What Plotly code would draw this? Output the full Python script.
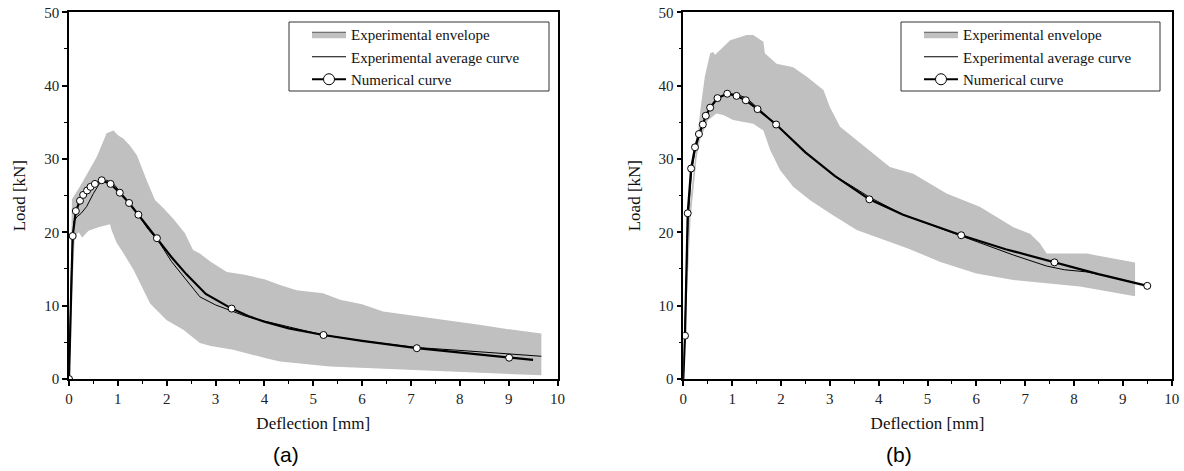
import plotly.graph_objects as go

# ---------------- data (a) ----------------
a_env_up_x = [0, 0.03, 0.06, 0.23, 0.4, 0.57, 0.77, 0.91, 1.01, 1.11, 1.25, 1.39, 1.59, 1.76, 1.93, 2.13, 2.37,
              2.54, 2.68, 2.9, 3.23, 3.6, 4.0, 4.32, 4.66, 5.2, 5.55, 6.0, 6.43, 7.0, 7.73, 8.4, 9.09, 9.67]
a_env_up_y = [0, 15, 24.5, 26.3, 28.3, 30.3, 33.5, 33.9, 33.2, 32.8, 31.8, 30.5, 27.1, 24.4, 23.3, 21.9, 19.9,
              17.6, 17.1, 16.0, 14.6, 14.2, 13.6, 12.8, 12.1, 11.7, 10.8, 10.2, 9.2, 8.7, 8.0, 7.4, 6.7, 6.2]
a_env_lo_x = [0, 0.05, 0.12, 0.2, 0.27, 0.4, 0.6, 0.84, 0.87, 0.98, 1.1, 1.32, 1.5, 1.66, 2.0, 2.34, 2.68,
              2.9, 3.36, 3.7, 4.05, 4.32, 4.73, 5.34, 6.0, 7.04, 8.5, 9.67]
a_env_lo_y = [0, 10, 19.5, 20.0, 19.3, 20.2, 20.7, 21.1, 20.3, 18.5, 17.3, 14.9, 12.5, 10.3, 8.0, 6.7, 4.9,
              4.5, 4.0, 3.4, 2.8, 2.4, 2.1, 1.7, 1.5, 1.2, 0.8, 0.5]
a_avg_x = [0, 0.05, 0.1, 0.16, 0.25, 0.36, 0.5, 0.63, 0.77, 0.9, 1.05, 1.23, 1.42, 1.6, 1.86, 2.1, 2.4, 2.68,
           3.0, 3.3, 3.6, 4.0, 4.5, 5.2, 6.0, 7.1, 8.0, 9.0, 9.67]
a_avg_y = [0, 15, 21.5, 22.1, 22.6, 23.5, 25.3, 26.7, 27.1, 26.7, 25.5, 24.0, 22.4, 20.6, 18.5, 16.0, 13.6, 11.2,
           10.1, 9.4, 8.6, 7.9, 7.1, 6.0, 5.2, 4.3, 3.9, 3.4, 3.1]
a_num_x = [0, 0.075, 0.14, 0.225, 0.29, 0.37, 0.44, 0.53, 0.67, 0.85, 1.04, 1.23, 1.42, 1.8, 2.1, 2.4, 2.8,
           3.33, 3.7, 4.0, 4.5, 5.21, 6.0, 7.12, 8.0, 9.01, 9.5]
a_num_y = [0, 19.5, 22.9, 24.3, 25.1, 25.7, 26.2, 26.6, 27.1, 26.6, 25.4, 24.0, 22.4, 19.2, 16.6, 14.3, 11.6,
           9.6, 8.5, 7.8, 6.9, 6.0, 5.2, 4.2, 3.6, 2.9, 2.6]
a_mark_x = [0, 0.075, 0.14, 0.225, 0.29, 0.37, 0.44, 0.53, 0.67, 0.85, 1.04, 1.23, 1.42, 1.8, 3.33, 5.21, 7.12, 9.01]
a_mark_y = [0, 19.5, 22.9, 24.3, 25.1, 25.7, 26.2, 26.6, 27.1, 26.6, 25.4, 24.0, 22.4, 19.2, 9.6, 6.0, 4.2, 2.9]

# ---------------- data (b) ----------------
b_env_up_x = [0, 0.04, 0.07, 0.2, 0.34, 0.44, 0.55, 0.61, 0.65, 0.96, 1.3, 1.43, 1.64, 1.67, 1.91, 2.25, 2.53,
              2.87, 3.0, 3.21, 3.55, 3.96, 4.23, 4.71, 5.39, 6.07, 6.76, 7.1, 7.3, 7.44, 8.26, 9.25]
b_env_up_y = [0, 10, 19.9, 27.6, 36.2, 41.2, 44.4, 44.6, 44.2, 46.2, 46.9, 46.9, 46.0, 44.4, 43.0, 42.5, 41.2,
              39.4, 37.1, 34.4, 32.6, 30.3, 28.9, 28.0, 25.3, 23.5, 20.7, 19.8, 18.5, 17.1, 17.1, 15.9]
b_env_lo_x = [0, 0.08, 0.15, 0.27, 0.34, 0.51, 0.68, 0.82, 1.02, 1.43, 1.64, 1.78, 1.98, 2.25, 2.59, 3.0, 3.55,
              4.03, 4.6, 5.25, 6.0, 6.76, 8.12, 9.25]
b_env_lo_y = [0, 12, 22, 30, 32.6, 35.3, 36.2, 36.0, 35.3, 34.8, 33.9, 31.2, 28.5, 26.2, 24.4, 22.6, 20.3,
              19.2, 17.8, 16.0, 14.4, 13.5, 12.6, 11.3]
b_avg_x = [0, 0.05, 0.1, 0.17, 0.25, 0.35, 0.45, 0.55, 0.7, 0.9, 1.1, 1.3, 1.52, 1.9, 2.5, 3.1, 3.5, 3.81, 4.5,
           5.69, 6.2, 6.76, 7.44, 7.8, 8.26, 8.7, 9.25]
b_avg_y = [0, 12, 22, 28.2, 31.4, 33.6, 35.6, 36.9, 38.2, 38.9, 38.8, 38.3, 37.0, 34.7, 30.9, 27.7, 26.1, 24.8,
           22.4, 19.5, 18.2, 16.9, 15.4, 14.9, 14.6, 14.0, 13.1]
b_num_x = [0, 0.035, 0.09, 0.16, 0.24, 0.32, 0.40, 0.46, 0.55, 0.70, 0.90, 1.09, 1.28, 1.52, 1.90, 2.5, 3.1,
           3.5, 3.81, 4.5, 5.69, 6.6, 7.6, 8.5, 9.5]
b_num_y = [0, 5.9, 22.6, 28.7, 31.6, 33.4, 34.7, 35.9, 37.0, 38.3, 38.9, 38.6, 38.0, 36.8, 34.7, 30.9, 27.7,
           25.9, 24.5, 22.4, 19.6, 17.7, 15.9, 14.3, 12.7]
b_mark_x = [0.035, 0.09, 0.16, 0.24, 0.32, 0.40, 0.46, 0.55, 0.70, 0.90, 1.09, 1.28, 1.52, 1.90, 3.81, 5.69, 7.6, 9.5]
b_mark_y = [5.9, 22.6, 28.7, 31.6, 33.4, 34.7, 35.9, 37.0, 38.3, 38.9, 38.6, 38.0, 36.8, 34.7, 24.5, 19.6, 15.9, 12.7]

legend_names = ["Experimental envelope", "Experimental average curve", "Numerical curve"]
panel_labels = ["(a)", "(b)"]
x_title = "Deflection [mm]"
y_title = "Load [kN]"

ENV = "#c0c0c0"
SERIF = "Liberation Serif, Times New Roman, serif"

fig = go.Figure()

panels = [
    (a_env_up_x, a_env_up_y, a_env_lo_x, a_env_lo_y, a_avg_x, a_avg_y, a_num_x, a_num_y, a_mark_x, a_mark_y),
    (b_env_up_x, b_env_up_y, b_env_lo_x, b_env_lo_y, b_avg_x, b_avg_y, b_num_x, b_num_y, b_mark_x, b_mark_y),
]

for i, (ux, uy, lx, ly, avx, avy, nx, ny, mx, my) in enumerate(panels):
    xa = "x" if i == 0 else "x2"
    ya = "y" if i == 0 else "y2"
    leg = "legend" if i == 0 else "legend2"
    poly_x = list(ux) + list(reversed(lx))
    poly_y = list(uy) + list(reversed(ly))
    fig.add_trace(go.Scatter(x=poly_x, y=poly_y, fill="toself", fillcolor=ENV, mode="lines",
                             line=dict(width=0, color=ENV), showlegend=False, xaxis=xa, yaxis=ya,
                             hoverinfo="skip"))
    fig.add_trace(go.Scatter(x=avx, y=avy, mode="lines", line=dict(color="black", width=1),
                             showlegend=False, xaxis=xa, yaxis=ya))
    fig.add_trace(go.Scatter(x=nx, y=ny, mode="lines", line=dict(color="black", width=2.2),
                             showlegend=False, xaxis=xa, yaxis=ya))
    fig.add_trace(go.Scatter(x=mx, y=my, mode="markers",
                             marker=dict(size=7, color="white", line=dict(color="black", width=1)),
                             showlegend=False, xaxis=xa, yaxis=ya))
    # legend entries
    fig.add_trace(go.Scatter(x=[None], y=[None], fill="toself", fillcolor=ENV, mode="lines",
                             line=dict(width=1, color="#555555"), name=legend_names[0],
                             legend=leg, xaxis=xa, yaxis=ya))
    fig.add_trace(go.Scatter(x=[None], y=[None], mode="lines", line=dict(color="black", width=1),
                             name=legend_names[1], legend=leg, xaxis=xa, yaxis=ya))
    fig.add_trace(go.Scatter(x=[None], y=[None], mode="lines+markers", line=dict(color="black", width=2),
                             marker=dict(size=11, color="white", line=dict(color="black", width=1)),
                             name=legend_names[2], legend=leg, xaxis=xa, yaxis=ya))

W, H = 1184, 471
y0 = (H - 379) / H
y1 = (H - 12.3) / H
dom1 = [69 / W, 557.5 / W]
dom2 = [683.3 / W, 1171.7 / W]

axis_common = dict(showline=True, linecolor="black", linewidth=1.6, mirror=True, ticks="outside",
                   ticklen=5, tickwidth=1.5, tickcolor="black", showgrid=False, zeroline=False,
                   automargin=False,
                   tickfont=dict(family=SERIF, size=15, color="#222"),
                   title_font=dict(family=SERIF, size=17, color="#111"))

xcommon = dict(axis_common, range=[0, 10], dtick=1, tick0=0,
               minor=dict(ticks="outside", ticklen=3, tickwidth=1.2, tickcolor="black", dtick=0.5, tick0=0),
               title=dict(text=x_title, standoff=11))
ycommon = dict(axis_common, range=[0, 50], dtick=10, tick0=0,
               minor=dict(ticks="outside", ticklen=3, tickwidth=1.2, tickcolor="black", dtick=5, tick0=0),
               title=dict(text=y_title, standoff=14))

legend_common = dict(bgcolor="rgba(0,0,0,0)", borderwidth=0, font=dict(family=SERIF, size=15, color="#111"),
                     itemwidth=34, xanchor="left", yanchor="top", tracegroupgap=0)

fig.update_layout(
    width=W, height=H,
    margin=dict(l=0, r=0, t=0, b=0, autoexpand=False),
    paper_bgcolor="white", plot_bgcolor="white",
    xaxis=dict(xcommon, domain=dom1, anchor="y"),
    yaxis=dict(ycommon, domain=[y0, y1], anchor="x"),
    xaxis2=dict(xcommon, domain=dom2, anchor="y2"),
    yaxis2=dict(ycommon, domain=[y0, y1], anchor="x2"),
    legend=dict(legend_common, x=307 / W, y=1 - 18 / H),
    legend2=dict(legend_common, x=919 / W, y=1 - 18 / H),
    shapes=[
        dict(type="rect", xref="paper", yref="paper", x0=289 / W, x1=549 / W, y0=1 - 91 / H, y1=1 - 22 / H,
             line=dict(color="#333", width=1), fillcolor="white", layer="above"),
        dict(type="rect", xref="paper", yref="paper", x0=901 / W, x1=1160 / W, y0=1 - 91 / H, y1=1 - 22 / H,
             line=dict(color="#333", width=1), fillcolor="white", layer="above"),
    ],
    annotations=[
        dict(text=panel_labels[0], xref="paper", yref="paper", x=286 / W, y=1 - 454 / H, showarrow=False,
             font=dict(family="Liberation Sans, Arial", size=21, color="black"), xanchor="center", yanchor="middle"),
        dict(text=panel_labels[1], xref="paper", yref="paper", x=899 / W, y=1 - 454 / H, showarrow=False,
             font=dict(family="Liberation Sans, Arial", size=21, color="black"), xanchor="center", yanchor="middle"),
    ],
)

fig.write_html("out.html", config={"displayModeBar": False},
               post_script="document.body.style.margin='0px';document.body.style.overflow='hidden';")
